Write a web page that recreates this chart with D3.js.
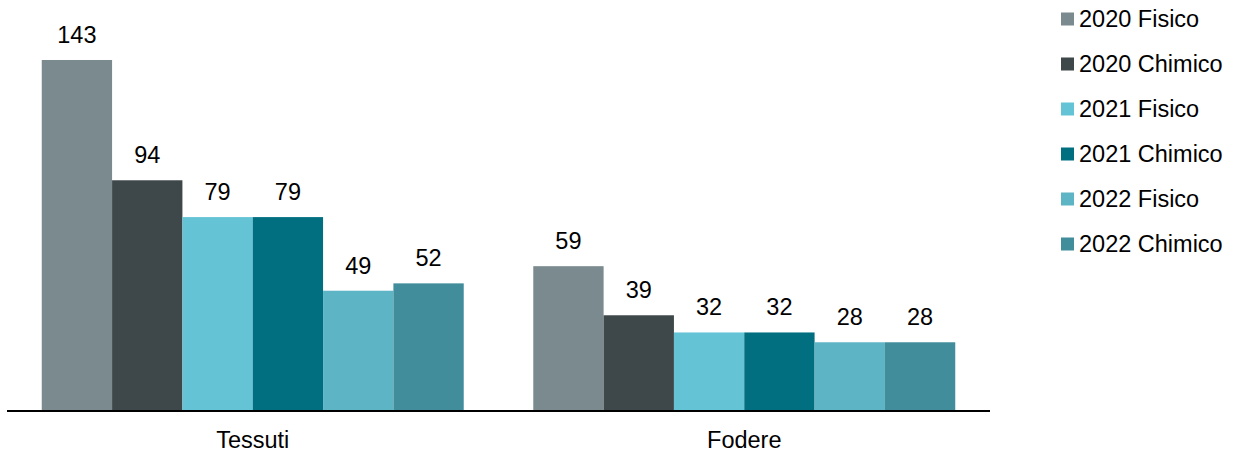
<!DOCTYPE html>
<html>
<head>
<meta charset="utf-8">
<script src="https://cdn.jsdelivr.net/npm/d3@7"></script>
<style>
  body { margin: 0; background: #fff; }
  text { font-family: "Liberation Sans", Arial, sans-serif; fill: #000; }
</style>
</head>
<body>
<div class="svg-wrapper"></div>
<script>
var categories = ["Tessuti", "Fodere"];
var series     = ["2020 Fisico", "2020 Chimico", "2021 Fisico", "2021 Chimico", "2022 Fisico", "2022 Chimico"];
var colors     = ["#7b8a8e", "#3e4749", "#64c3d5", "#016f80", "#5cb4c4", "#428d9b"];
var tessuti    = [143, 94, 79, 79, 49, 52];
var fodere     = [59, 39, 32, 32, 28, 28];
var values     = [tessuti, fodere];

var width = 1235, height = 455;
var fontSize = "23.5px";
var plot = {left: 7, right: 990, top: 60, bottom: 411};

var svg = d3.select(".svg-wrapper").append("svg")
  .attr("width", width)
  .attr("height", height);

var x0 = d3.scaleBand().domain(categories).range([plot.left, plot.right]).paddingInner(0.1415).paddingOuter(0.0707);
var x1 = d3.scaleBand().domain(series).range([0, x0.bandwidth()]);
var y  = d3.scaleLinear().domain([0, 143]).range([plot.bottom, plot.top]);

var groups = svg.selectAll("g.cat")
  .data(categories)
  .enter().append("g")
  .attr("class", "cat")
  .attr("transform", function(d) { return "translate(" + x0(d) + ",0)"; });

groups.each(function(c, ci) {
  var g = d3.select(this);
  var rows = series.map(function(s, i) { return {s: s, v: values[ci][i], c: colors[i]}; });
  g.selectAll("rect")
    .data(rows)
    .enter().append("rect")
    .attr("x", function(d) { return x1(d.s); })
    .attr("width", x1.bandwidth())
    .attr("y", function(d) { return y(d.v); })
    .attr("height", function(d) { return plot.bottom - y(d.v); })
    .attr("fill", function(d) { return d.c; });
  g.selectAll("text.val")
    .data(rows)
    .enter().append("text")
    .attr("class", "val")
    .attr("x", function(d) { return x1(d.s) + x1.bandwidth() / 2; })
    .attr("y", function(d) { return y(d.v) - 17; })
    .attr("text-anchor", "middle")
    .style("font-size", fontSize)
    .text(function(d) { return d.v; });
});

// axis
var xAxis = d3.axisBottom(x0).tickSize(0).tickPadding(20);
var ax = svg.append("g")
  .attr("transform", "translate(0," + plot.bottom + ")")
  .call(xAxis);
ax.select(".domain").attr("stroke", "#000").attr("stroke-width", 2)
  .attr("d", "M" + plot.left + ",0H" + plot.right);
ax.selectAll("text").style("font-size", fontSize).attr("fill", "#000")
  .style("font-family", "'Liberation Sans', Arial, sans-serif");

// legend
var legend = svg.append("g").attr("transform", "translate(1061,0)");
series.forEach(function(s, i) {
  var yy = 19 + i * 45;
  legend.append("rect").attr("x", 0).attr("y", yy - 6.5).attr("width", 13).attr("height", 13).attr("fill", colors[i]);
  legend.append("text").attr("x", 18).attr("y", yy).attr("dy", "0.35em")
    .style("font-size", fontSize).text(s);
});
</script>
</body>
</html>
